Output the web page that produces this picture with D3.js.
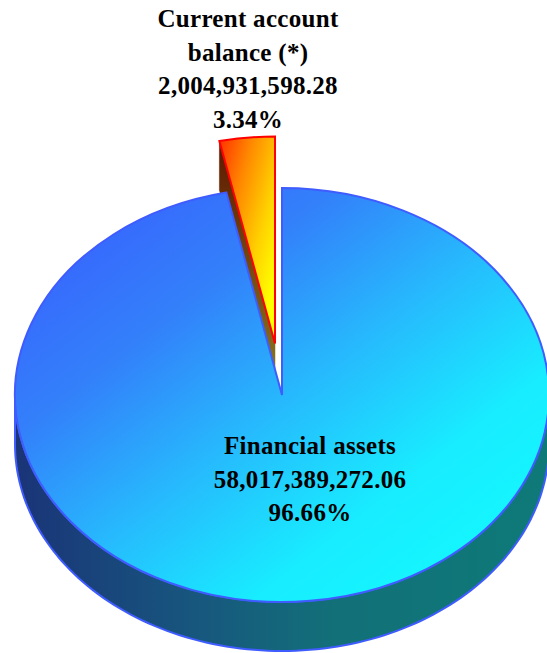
<!DOCTYPE html>
<html>
<head>
<meta charset="utf-8">
<script src="https://cdn.jsdelivr.net/npm/d3@7"></script>
<style>
  html, body { margin: 0; padding: 0; background: #fff; }
  #chart { width: 547px; height: 653px; }
  text { font-family: "Liberation Serif", "Times New Roman", serif; font-weight: bold; fill: #000; }
</style>
</head>
<body>
<div id="chart"></div>
<script>
// data
const categories = ["Financial assets", "Current account balance (*)"];
const values = [58017389272.06, 2004931598.28];
const labelLines = [["Financial assets"], ["Current account", "balance (*)"]];
const explodeFlags = [false, true];

// layout
const W = 547, H = 653;
const cx = 282, cy = 395, rx = 267, ry = 207, depth = 49;
const explodeBy = 0.25;
const labelPos = [{ x: 310, y: 454 }, { x: 248, y: 27 }];
const lineH = 33.5;

const svg = d3.select("#chart").append("svg")
    .attr("width", W).attr("height", H);

const defs = svg.append("defs");
function grad(id, x1, y1, x2, y2, stops) {
    const g = defs.append("linearGradient").attr("id", id)
        .attr("x1", x1).attr("y1", y1).attr("x2", x2).attr("y2", y2);
    stops.forEach(s => g.append("stop").attr("offset", s[0]).attr("stop-color", s[1]));
}
grad("topBlue", 0, 0, 1, 1, [[0, "#3a58ff"], [0.3, "#3380fa"], [0.52, "#26bcfd"], [0.72, "#18ecff"], [1, "#10ffff"]]);
grad("sideBlue", 0, 0, 1, 0, [[0, "#1a3478"], [0.35, "#17587e"], [0.6, "#127078"], [1, "#0e7a78"]]);
grad("topRed", 0, 0, 1, 1, [[0, "#ff3000"], [0.3, "#ff8800"], [0.6, "#ffd000"], [0.85, "#ffff00"]]);
grad("sideRed", 0, 0, 0, 1, [[0, "#5e1800"], [1, "#8a7a22"]]);

const fills = [
    { top: "url(#topBlue)", side: "url(#sideBlue)", stroke: "#3f5cff" },
    { top: "url(#topRed)", side: "url(#sideRed)", stroke: "#ff0000" }
];

const pie = d3.pie().sort(null).value(d => d)(values);
const total = d3.sum(values);
const arc = d3.arc().innerRadius(0).outerRadius(rx);
const line = d3.line();

function pt(a, ox, oy, down) {
    return [cx + ox + rx * Math.sin(a), cy + oy - ry * Math.cos(a) + (down || 0)];
}

const slices = pie.map((p, i) => {
    const mid = (p.startAngle + p.endAngle) / 2;
    const e = explodeFlags[i] ? explodeBy : 0;
    return { p, i, mid, ox: e * rx * Math.sin(mid), oy: -e * ry * Math.cos(mid) };
});

// back to front
slices.sort((a, b) => -Math.cos(a.mid) - -Math.cos(b.mid));

slices.forEach(s => {
    const { p, i, ox, oy } = s;
    const a0 = p.startAngle, a1 = p.endAngle;
    const g = svg.append("g");
    const f = fills[i];

    // radial walls facing the viewer
    [[a0, Math.sin(a0) < -1e-6], [a1, Math.sin(a1) > 1e-6]].forEach(([a, vis]) => {
        if (!vis) return;
        const c = [cx + ox, cy + oy];
        const pts = [c, pt(a, ox, oy), pt(a, ox, oy, depth), [c[0], c[1] + depth]];
        g.append("path").attr("d", line(pts) + "Z")
            .attr("fill", f.side).attr("stroke", f.side).attr("stroke-width", 0.5);
    });

    // outer curved wall (front half only)
    const st = Math.max(a0, Math.PI / 2), en = Math.min(a1, 3 * Math.PI / 2);
    if (st < en) {
        const ts = d3.range(0, 121).map(k => st + (en - st) * k / 120);
        const pts = ts.map(a => pt(a, ox, oy)).concat(ts.slice().reverse().map(a => pt(a, ox, oy, depth)));
        g.append("path").attr("d", line(pts) + "Z")
            .attr("fill", f.side).attr("stroke", f.stroke).attr("stroke-width", 2)
            .attr("stroke-linejoin", "round");
    }

    // top face
    g.append("path")
        .attr("transform", `translate(${cx + ox},${cy + oy}) scale(1,${ry / rx})`)
        .attr("d", arc(p))
        .attr("fill", f.top)
        .attr("stroke", f.stroke).attr("stroke-width", 2)
        .attr("vector-effect", "non-scaling-stroke")
        .attr("stroke-linejoin", "miter");
});

// labels
pie.forEach((p, i) => {
    const lines = labelLines[i].concat([d3.format(",.2f")(values[i]), d3.format(".2%")(values[i] / total)]);
    const t = svg.append("text")
        .attr("text-anchor", "middle")
        .attr("font-size", 25)
        .attr("letter-spacing", 0.3);
    lines.forEach((l, k) => {
        t.append("tspan").attr("x", labelPos[i].x).attr("y", labelPos[i].y + k * lineH).text(l);
    });
});
</script>
</body>
</html>
